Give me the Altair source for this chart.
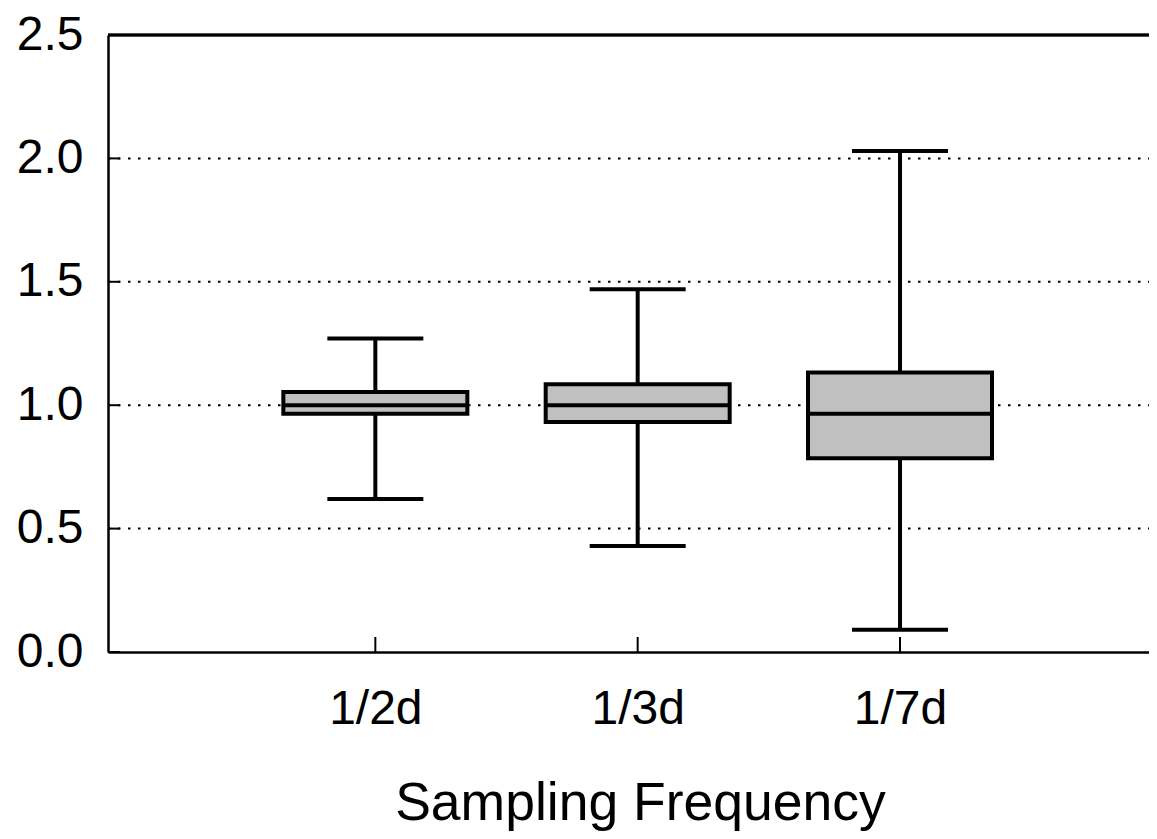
import altair as alt
import pandas as pd

categories = ["1/2d", "1/3d", "1/7d"]
whisker_low = [0.62, 0.43, 0.09]
q1 = [0.965, 0.932, 0.785]
median = [1.0, 1.0, 0.965]
q3 = [1.053, 1.085, 1.132]
whisker_high = [1.27, 1.47, 2.03]
y_ticks = [0.0, 0.5, 1.0, 1.5, 2.0, 2.5]
grid_values = [0.5, 1.0, 1.5, 2.0]

df = pd.DataFrame({
    "cat": categories,
    "pos": list(range(1, len(categories) + 1)),
    "lo": whisker_low,
    "q1": q1,
    "med": median,
    "q3": q3,
    "hi": whisker_high,
})
ticks_df = pd.DataFrame({"v": y_ticks})
grid_df = pd.DataFrame({"v": grid_values})

W = 1041
H = 617
FONT = "Liberation Sans"

label_expr = "[''," + ",".join("'%s'" % c for c in categories) + "][datum.value]"

xscale = alt.Scale(domain=[0, 3.93], nice=False, zero=False)
xaxis = alt.Axis(
    title="Sampling Frequency",
    values=[1, 2, 3],
    labelExpr=label_expr,
    labelAngle=0,
    ticks=False,
    labelPadding=33,
    labelFontSize=48,
    titleFontSize=53.5,
    titleFontWeight="normal",
    titlePadding=44,
    titleX=532,
    labelColor="black",
    titleColor="black",
    labelFont=FONT,
    titleFont=FONT,
    domainColor="black",
    domainWidth=2.5,
    grid=False,
)
xenc = alt.X("pos:Q", scale=xscale, axis=xaxis)
xenc_plain = alt.X("pos:Q", scale=xscale)

yscale = alt.Scale(domain=[0, 2.5], nice=False, zero=False)
yaxis = alt.Axis(
    title=None,
    values=y_ticks,
    format=".1f",
    ticks=False,
    labelPadding=25,
    labelFontSize=48,
    labelFont=FONT,
    labelColor="black",
    domainColor="black",
    domainWidth=2.5,
    grid=False,
)

base = alt.Chart(df)

grid = alt.Chart(grid_df).mark_rule(
    color="black", strokeWidth=2, strokeDash=[2.5, 7.5]
).encode(y=alt.Y("v:Q", scale=yscale, axis=yaxis), x=alt.value(0), x2=alt.value(W))

top_border = alt.Chart(grid_df).mark_rule(color="black", strokeWidth=2.5).encode(
    y=alt.value(0), x=alt.value(0), x2=alt.value(W)
)

whisker = base.mark_rule(color="black", strokeWidth=4).encode(
    x=xenc,
    y=alt.Y("lo:Q", scale=yscale),
    y2="hi:Q",
)
box = base.mark_bar(
    size=184, color="#c0c0c0", stroke="black", strokeWidth=4
).encode(x=xenc_plain, y=alt.Y("q1:Q", scale=yscale), y2="q3:Q")
med = base.mark_tick(
    size=184, thickness=4, color="black", opacity=1, orient="horizontal"
).encode(x=xenc_plain, y=alt.Y("med:Q", scale=yscale))
cap_lo = base.mark_tick(
    size=96, thickness=4, color="black", opacity=1, orient="horizontal"
).encode(x=xenc_plain, y=alt.Y("lo:Q", scale=yscale))
cap_hi = base.mark_tick(
    size=96, thickness=4, color="black", opacity=1, orient="horizontal"
).encode(x=xenc_plain, y=alt.Y("hi:Q", scale=yscale))
xticks = base.mark_rule(color="black", strokeWidth=2).encode(
    x=xenc_plain, y=alt.value(H - 15), y2=alt.value(H)
)
yticks = alt.Chart(ticks_df).mark_rule(color="black", strokeWidth=2).encode(
    y=alt.Y("v:Q", scale=yscale), x=alt.value(0), x2=alt.value(12)
)

chart = (
    alt.layer(grid, top_border, whisker, box, med, cap_lo, cap_hi, xticks, yticks)
    .properties(
        width=W,
        height=H,
        autosize=alt.AutoSizeParams(type="none"),
        padding={"left": 100, "top": 27, "right": 0, "bottom": 179},
    )
    .configure_view(strokeWidth=0)
    .configure(background="white")
)

chart.save("out.html", embed_options={"renderer": "svg", "actions": False})
